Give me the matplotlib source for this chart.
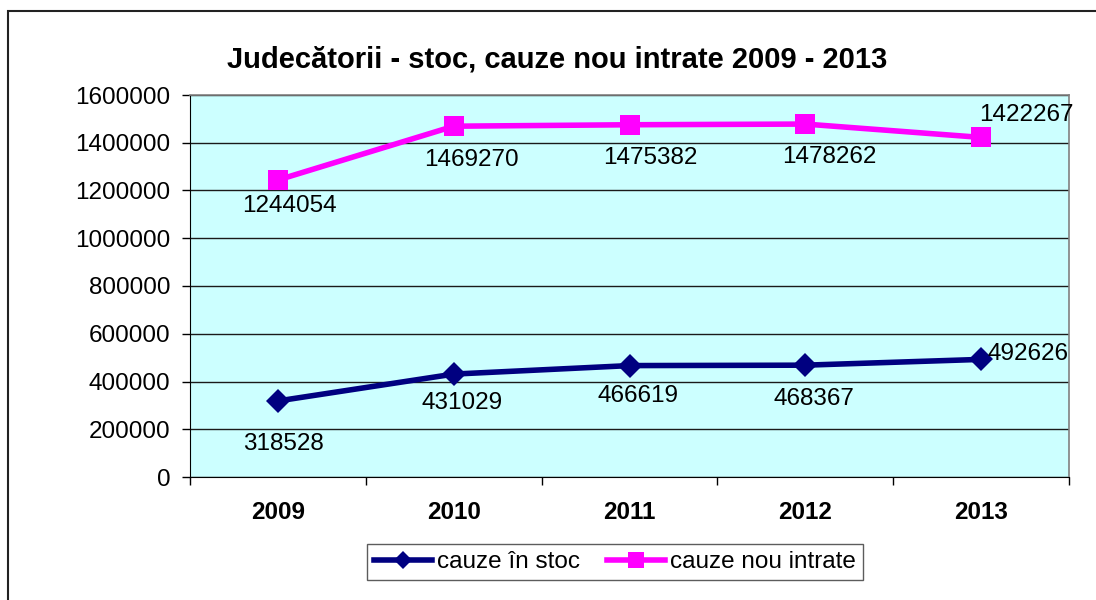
import matplotlib.pyplot as plt
from matplotlib.patches import Rectangle

plt.rcParams['font.family'] = ['Liberation Sans', 'DejaVu Sans']

years = ['2009', '2010', '2011', '2012', '2013']
stoc = [318528, 431029, 466619, 468367, 492626]
intrate = [1244054, 1469270, 1475382, 1478262, 1422267]

# label offsets in pixels (dx, dy) from the point
off_stoc = [(6, -43), (8, -29), (8, -30), (9, -34), (47, 5)]
off_intrate = [(12, -26), (18, -34), (21, -33), (24, -33), (45, 22)]

W, H = 1096, 600
fig = plt.figure(figsize=(W / 100, H / 100), dpi=100)

# outer chart border (right/bottom cut off in the reference)
fig.patches.append(Rectangle((8 / W, -0.1), 1.2, 1 - 11 / H + 0.1, transform=fig.transFigure,
                             fill=False, edgecolor='#222222', linewidth=1.5))

ax = fig.add_axes([190 / W, 1 - 477 / H, (1069 - 190) / W, (477 - 95) / H])
ax.set_facecolor('#CCFFFF')

x = list(range(len(years)))
ax.plot(x, stoc, color='#000080', linewidth=4, marker='D', markersize=12,
        markeredgewidth=0, label='cauze în stoc', zorder=3)
ax.plot(x, intrate, color='#FF00FF', linewidth=4, marker='s', markersize=15,
        markeredgewidth=0, label='cauze nou intrate', zorder=3)

fs = 17.5
px = 72 / 100
for xi, v, (dx, dy) in zip(x, stoc, off_stoc):
    ax.annotate(str(v), (xi, v), xytext=(dx * px, dy * px), textcoords='offset points',
                ha='center', va='center', fontsize=fs, zorder=4)
for xi, v, (dx, dy) in zip(x, intrate, off_intrate):
    ax.annotate(str(v), (xi, v), xytext=(dx * px, dy * px), textcoords='offset points',
                ha='center', va='center', fontsize=fs, zorder=4)

ax.set_xlim(-0.5, 4.5)
ax.set_ylim(0, 1600000)
ax.set_yticks(range(0, 1600001, 200000))
ax.set_yticklabels([str(v) for v in range(0, 1600001, 200000)], fontsize=fs)
ax.yaxis.grid(True, color='#1a1a1a', linewidth=1)
ax.set_axisbelow(True)

ax.set_xticks(x)
ax.set_xticklabels(years, fontsize=fs, fontweight='bold')
ax.tick_params(axis='x', length=0, pad=17)
ax.set_xticks([i + 0.5 for i in range(-1, 5)], minor=True)
ax.tick_params(axis='x', which='minor', length=6, width=1, direction='out')
ax.tick_params(axis='y', length=6, width=1, direction='out', pad=8)

for s in ['top', 'right']:
    ax.spines[s].set_color('#808080')
    ax.spines[s].set_linewidth(1.2)
ax.spines['left'].set_color('#000000')
ax.spines['bottom'].set_color('#000000')

fig.text(557 / W, 1 - 60 / H, 'Judecătorii - stoc, cauze nou intrate 2009 - 2013',
         ha='center', va='center', fontsize=21, fontweight='bold')

leg = fig.legend(loc='center', bbox_to_anchor=(615 / W, 1 - 562 / H), ncol=2,
                 fontsize=fs, frameon=True, fancybox=False, edgecolor='#333333',
                 handlelength=2.4, handletextpad=0.2, columnspacing=1.1,
                 borderpad=0.3, markerscale=0.8)
leg.get_frame().set_linewidth(1)

fig.savefig('out.png', dpi=100)
